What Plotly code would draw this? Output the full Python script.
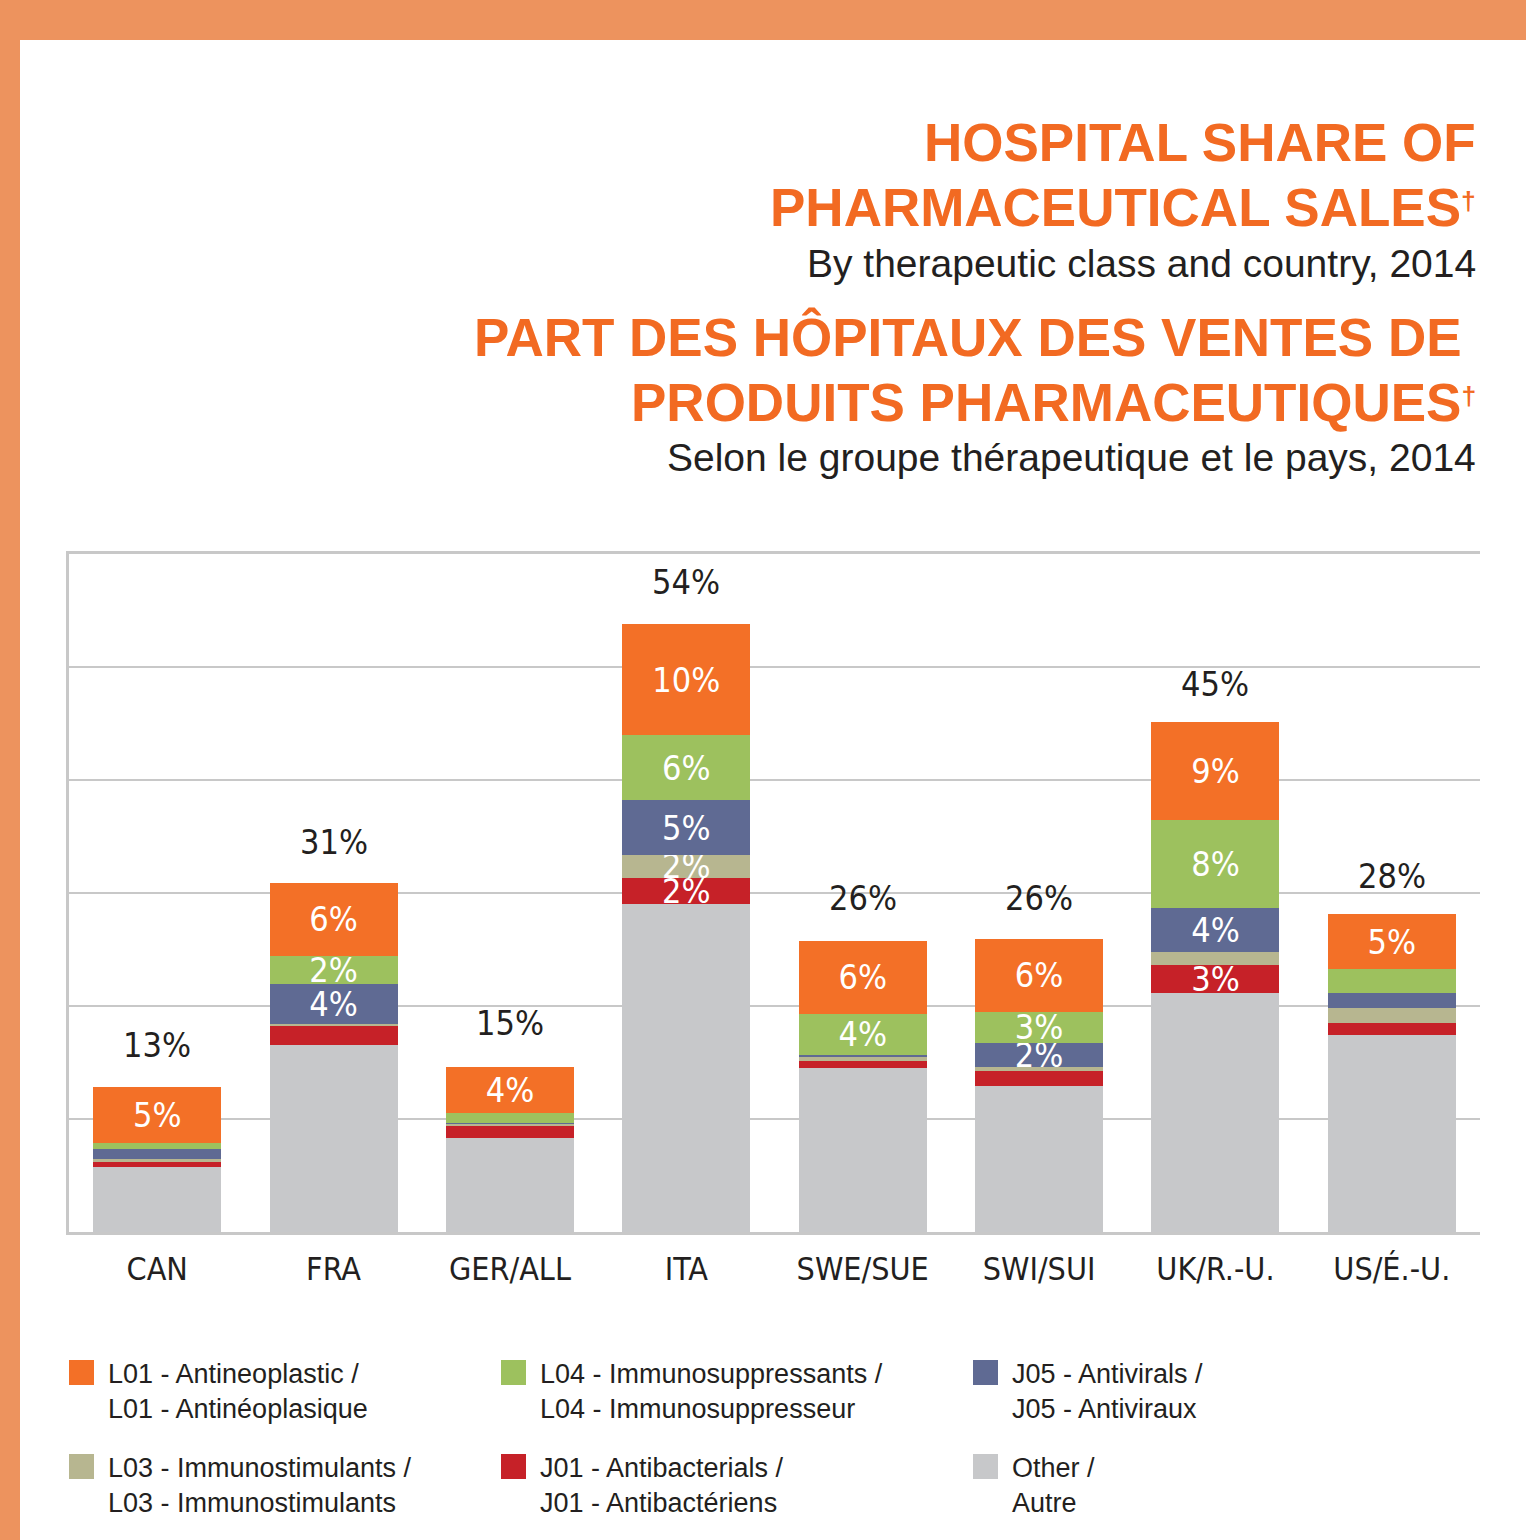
import plotly.graph_objects as go

# ---------------- data ----------------
countries = ["CAN", "FRA", "GER/ALL", "ITA", "SWE/SUE", "SWI/SUI", "UK/R.-U.", "US/É.-U."]

other = [5.75, 16.58, 8.35, 29.03, 14.54, 12.92, 21.15, 17.43]
j01 = [0.44, 1.65, 1.06, 2.33, 0.62, 1.35, 2.48, 1.06]
l03 = [0.27, 0.18, 0.15, 2.00, 0.35, 0.33, 1.15, 1.35]
j05 = [0.88, 3.54, 0.12, 4.87, 0.18, 2.15, 3.89, 1.30]
l04 = [0.56, 2.48, 0.88, 5.75, 3.60, 2.74, 7.79, 2.12]
l01 = [4.96, 6.49, 4.07, 9.82, 6.49, 6.43, 8.67, 4.87]

totals = [13, 31, 15, 54, 26, 26, 45, 28]

lbl_other = ["", "", "", "", "", "", "", ""]
lbl_j01 = ["", "", "", "2%", "", "", "3%", ""]
lbl_l03 = ["", "", "", "2%", "", "", "", ""]
lbl_j05 = ["", "4%", "", "5%", "", "2%", "4%", ""]
lbl_l04 = ["", "2%", "", "6%", "4%", "3%", "8%", ""]
lbl_l01 = ["5%", "6%", "4%", "10%", "6%", "6%", "9%", "5%"]

names = {
    "l01": "L01 - Antineoplastic /<br>L01 - Antinéoplasique",
    "l04": "L04 - Immunosuppressants /<br>L04 - Immunosuppresseur",
    "j05": "J05 - Antivirals /<br>J05 - Antiviraux",
    "l03": "L03 - Immunostimulants /<br>L03 - Immunostimulants",
    "j01": "J01 - Antibacterials /<br>J01 - Antibactériens",
    "other": "Other /<br>Autre",
}

colors = {
    "l01": "#F37027",
    "l04": "#9DC15E",
    "j05": "#5F6A93",
    "l03": "#B7B690",
    "j01": "#C62128",
    "other": "#C7C8CA",
}

# ---------------- figure ----------------
W, H = 1526, 1540
L, R, T, B = 69, 46, 554, 308
PW, PH = W - L - R, H - T - B

def px_x(px):
    return (px - L) / PW

def px_y(py):
    return (H - B - py) / PH

NUM_FONT = "Liberation Sans Narrow, DejaVu Sans Condensed, Roboto, Arial"
TXT_FONT = "Liberation Sans, Arial, Helvetica"

fig = go.Figure()
stack = [
    ("other", other, lbl_other),
    ("j01", j01, lbl_j01),
    ("l03", l03, lbl_l03),
    ("j05", j05, lbl_j05),
    ("l04", l04, lbl_l04),
    ("l01", l01, lbl_l01),
]
for key, vals, lbls in stack:
    fig.add_trace(go.Bar(
        x=countries, y=vals, name=names[key],
        marker=dict(color=colors[key], line=dict(width=0)),
        text=lbls, textposition="inside", insidetextanchor="middle",
        textangle=0,
        textfont=dict(family=NUM_FONT, size=34, color="white"),
        hoverinfo="skip", showlegend=False,
    ))

annotations = []
for c, t in zip(countries, totals):
    annotations.append(dict(
        x=c, y=t, xref="x", yref="y", text=f"{t}%", showarrow=False,
        yanchor="bottom", yshift=18,
        font=dict(family=NUM_FONT, size=34, color="#231F20"),
    ))

# titles
ORANGE = "#F26A22"
DAG = "<span style='font-size:38px'><sup>†</sup></span>"
title_lines = [
    ("HOSPITAL SHARE OF", 142, True, 53),
    ("PHARMACEUTICAL SALES" + DAG, 207, True, 53),
    ("By therapeutic class and country, 2014", 263, False, 39),
    ("PART DES HÔPITAUX DES VENTES DE ", 337, True, 53),
    ("PRODUITS PHARMACEUTIQUES" + DAG, 402, True, 53),
    ("Selon le groupe thérapeutique et le pays, 2014", 457, False, 39),
]
for txt, yc, bold, size in title_lines:
    annotations.append(dict(
        x=px_x(1478), y=px_y(yc), xref="paper", yref="paper",
        xanchor="right", yanchor="middle", showarrow=False,
        text=f"<b>{txt}</b>" if bold else txt,
        font=dict(family=TXT_FONT, size=size, color=ORANGE if bold else "#231F20"),
    ))

# legend (manual)
shapes = []
legend_items = [
    ("l01", 69, 1360), ("l04", 501, 1360), ("j05", 973, 1360),
    ("l03", 69, 1454), ("j01", 501, 1454), ("other", 973, 1454),
]
for key, lx, ly in legend_items:
    shapes.append(dict(
        type="rect", xref="paper", yref="paper",
        x0=px_x(lx), x1=px_x(lx + 25), y0=px_y(ly), y1=px_y(ly + 25),
        fillcolor=colors[key], line=dict(width=0), layer="above",
    ))
    annotations.append(dict(
        x=px_x(lx + 37), y=px_y(ly - 3), xref="paper", yref="paper",
        xanchor="left", yanchor="top", align="left", showarrow=False,
        text=names[key],
        font=dict(family=TXT_FONT, size=27, color="#231F20"),
    ))

# orange border
BORDER = "#ED935E"
shapes.append(dict(type="rect", xref="paper", yref="paper",
                   x0=px_x(0), x1=px_x(W), y0=px_y(0), y1=px_y(40),
                   fillcolor=BORDER, line=dict(width=0), layer="above"))
shapes.append(dict(type="rect", xref="paper", yref="paper",
                   x0=px_x(0), x1=px_x(20), y0=px_y(0), y1=px_y(H),
                   fillcolor=BORDER, line=dict(width=0), layer="above"))

fig.update_layout(
    width=W, height=H,
    margin=dict(l=L, r=R, t=T, b=B, pad=0),
    barmode="stack", bargap=0.274,
    plot_bgcolor="white", paper_bgcolor="white",
    uniformtext=dict(minsize=34, mode="show"),
    annotations=annotations, shapes=shapes,
    showlegend=False,
    xaxis=dict(
        showline=True, mirror=True, linecolor="#C8C8C8", linewidth=3,
        ticks="", showgrid=False,
        tickfont=dict(family=NUM_FONT, size=32, color="#231F20"),
        ticklabelstandoff=7,
    ),
    yaxis=dict(
        range=[0, 60], tick0=0, dtick=10, showticklabels=False,
        showgrid=True, gridcolor="#C8C8C8", gridwidth=2,
        showline=True, linecolor="#C8C8C8", linewidth=3,
        zeroline=False, ticks="",
    ),
)

fig.write_html("out.html", config={"displayModeBar": False},
               post_script="document.body.style.margin='0px';")
